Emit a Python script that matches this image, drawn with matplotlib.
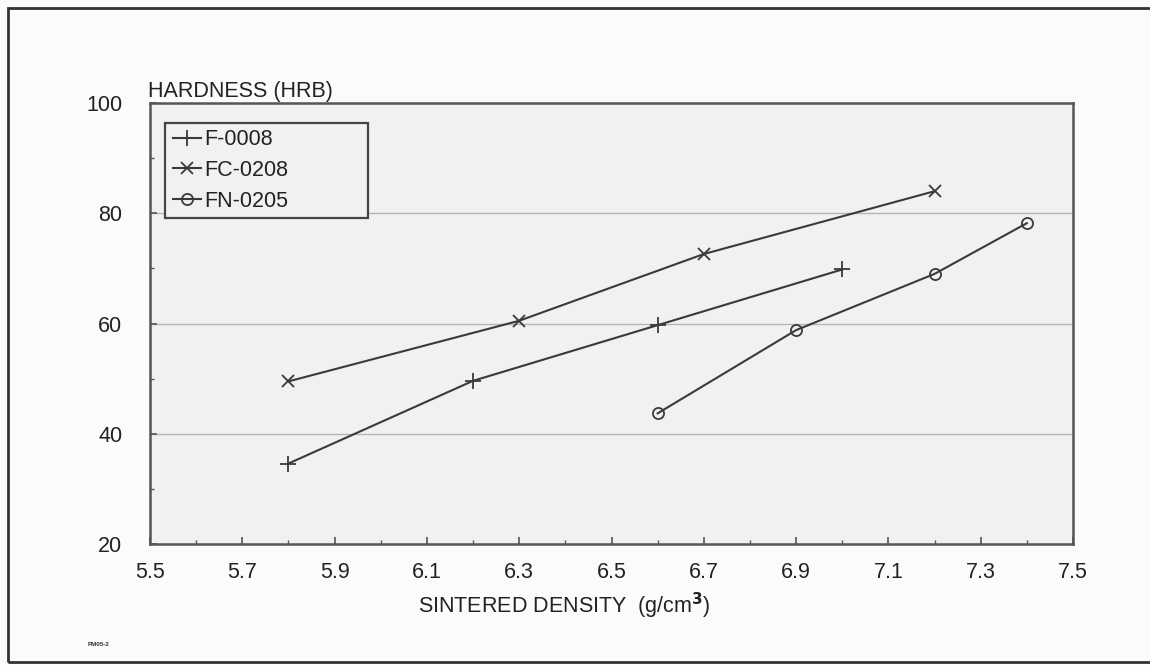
import numpy as np
import matplotlib.pyplot as plt
from matplotlib.patches import Rectangle
from matplotlib.ticker import MultipleLocator

plt.rcParams['font.family'] = ['Liberation Sans', 'DejaVu Sans']

# Werte
f0008_x = [5.8, 6.2, 6.6, 7.0]
f0008_y = [34.6, 49.6, 59.7, 69.8]

fc0208_x = [5.8, 6.3, 6.7, 7.2]
fc0208_y = [49.5, 60.5, 72.6, 84.0]

fn0205_x = [6.6, 6.9, 7.2, 7.4]
fn0205_y = [43.7, 58.8, 69.0, 78.2]

grid_levels = [40, 60, 80]

W, H = 1150, 665
fig = plt.figure(figsize=(11.5, 6.65), dpi=100, facecolor='#fbfbfb')
ax = fig.add_axes([150 / W, 1 - 544 / H, (1073 - 150) / W, (544 - 103) / H])
ax.set_facecolor('#f1f1f1')

# Rahmen um das ganze Bild
fig.patches.append(Rectangle((8 / W, 3 / H), 1.05, 1 - 11 / H,
                             transform=fig.transFigure, fill=False,
                             edgecolor='#333333', linewidth=2.0))

for g in grid_levels:
    ax.axhline(g, color='#b5b5b5', linewidth=1.0, zorder=1)

lc = '#3a3a3a'
ax.plot(f0008_x, f0008_y, color=lc, lw=1.5, marker='+', ms=11, mew=1.3,
        label='F-0008', zorder=3)
ax.plot(fc0208_x, fc0208_y, color=lc, lw=1.5, marker='x', ms=9, mew=1.3,
        label='FC-0208', zorder=3)
ax.plot(fn0205_x, fn0205_y, color=lc, lw=1.5, marker='o', ms=8, mew=1.3,
        mfc='none', label='FN-0205', zorder=3)

ax.set_xlim(5.5, 7.5)
ax.set_ylim(20, 100)
xt = np.arange(5.5, 7.51, 0.2)
ax.set_xticks(xt)
ax.set_xticklabels([f'{v:.1f}' for v in xt])
ax.xaxis.set_minor_locator(MultipleLocator(0.1))
ax.set_yticks([20, 40, 60, 80, 100])
ax.yaxis.set_minor_locator(MultipleLocator(10))
ax.tick_params(axis='both', which='major', direction='in', length=5,
               width=1.2, color='#555555', labelsize=15.5, labelcolor='#222222')
ax.tick_params(axis='both', which='minor', direction='in', length=3,
               width=1.0, color='#555555')
ax.tick_params(axis='x', pad=13)
ax.tick_params(axis='y', pad=20)

for s in ax.spines.values():
    s.set_color('#555555')
    s.set_linewidth(1.8)

leg = ax.legend(loc='upper left', bbox_to_anchor=(0.018, 0.955), fontsize=15.5,
                frameon=False, handlelength=1.3, handletextpad=0.15,
                labelspacing=0.45, borderpad=0.3, borderaxespad=0)
for t in leg.get_texts():
    t.set_color('#222222')

# Legendenrahmen breiter als der Text, wie im Original
ax.add_patch(Rectangle(((165 - 150) / 923, (544 - 218) / 441),
                       (368 - 165) / 923, (218 - 123) / 441,
                       transform=ax.transAxes, fill=True, facecolor='#f1f1f1',
                       edgecolor='#444444', linewidth=1.6, zorder=4))
leg.set_zorder(5)

fig.text(148 / W, 1 - 97 / H, 'HARDNESS (HRB)', fontsize=15.5,
         color='#222222', ha='left', va='baseline')
fig.text(418 / W, 1 - 613 / H, 'SINTERED DENSITY  (g/cm$^\\mathbf{3}$)',
         fontsize=15.5, color='#222222', ha='left', va='baseline')
fig.text(88 / W, 1 - 646 / H, 'PM05-2', fontsize=4.5, fontweight='bold',
         color='#333333', ha='left', va='baseline')

fig.savefig('out.png', dpi=100, facecolor=fig.get_facecolor())
